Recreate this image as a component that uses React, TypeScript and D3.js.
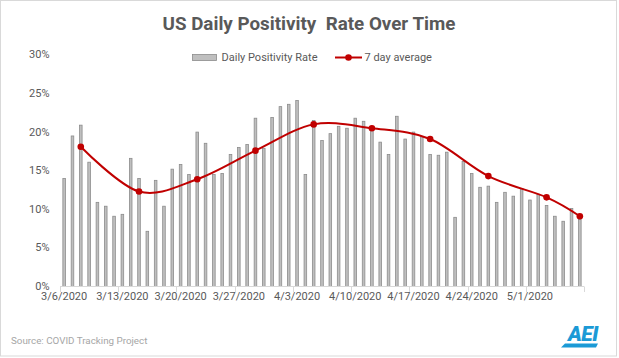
import React from "react";
import * as d3 from "d3";

const dates: string[] = [
  "3/6/2020","3/7/2020","3/8/2020","3/9/2020","3/10/2020","3/11/2020","3/12/2020",
  "3/13/2020","3/14/2020","3/15/2020","3/16/2020","3/17/2020","3/18/2020","3/19/2020",
  "3/20/2020","3/21/2020","3/22/2020","3/23/2020","3/24/2020","3/25/2020","3/26/2020",
  "3/27/2020","3/28/2020","3/29/2020","3/30/2020","3/31/2020","4/1/2020","4/2/2020",
  "4/3/2020","4/4/2020","4/5/2020","4/6/2020","4/7/2020","4/8/2020","4/9/2020",
  "4/10/2020","4/11/2020","4/12/2020","4/13/2020","4/14/2020","4/15/2020","4/16/2020",
  "4/17/2020","4/18/2020","4/19/2020","4/20/2020","4/21/2020","4/22/2020","4/23/2020",
  "4/24/2020","4/25/2020","4/26/2020","4/27/2020","4/28/2020","4/29/2020","4/30/2020",
  "5/1/2020","5/2/2020","5/3/2020","5/4/2020","5/5/2020","5/6/2020","5/7/2020",
];

const dailyRate: number[] = [
  14.0, 19.5, 20.9, 16.1, 10.9, 10.4, 9.1,
  9.35, 16.6, 14.0, 7.15, 13.75, 10.4, 15.2,
  15.8, 14.5, 20.0, 18.55, 14.5, 14.65, 17.1,
  18.0, 18.4, 21.8, 17.9, 21.9, 23.3, 23.6,
  24.1, 14.5, 21.5, 18.9, 19.8, 20.75, 20.5,
  21.8, 21.4, 20.6, 18.7, 17.1, 22.05, 19.1,
  20.0, 19.4, 17.1, 17.0, 17.4, 8.96, 16.2,
  14.65, 12.85, 13.0, 10.9, 12.2, 11.7, 12.7,
  11.2, 11.95, 10.5, 9.1, 8.45, 10.1, 8.7,
];

const avgDates: string[] = [
  "3/8/2020","3/15/2020","3/22/2020","3/29/2020","4/5/2020",
  "4/12/2020","4/19/2020","4/26/2020","5/3/2020","5/7/2020",
];
const avgRate: number[] = [18.1, 12.3, 13.9, 17.6, 21.0, 20.5, 19.1, 14.3, 11.55, 9.1];

const xTickLabels: string[] = [
  "3/6/2020","3/13/2020","3/20/2020","3/27/2020","4/3/2020",
  "4/10/2020","4/17/2020","4/24/2020","5/1/2020",
];
const yTicks: number[] = [0, 5, 10, 15, 20, 25, 30];

const W = 619;
const H = 358;
const FONT = "Roboto, 'Open Sans', sans-serif";

export default function App() {
  const x = d3.scaleBand<string>().domain(dates).range([60, 584]).paddingInner(0).paddingOuter(0);
  const y = d3.scaleLinear().domain([0, 30]).range([286.5, 54.9]);
  const bw = 2.6;
  const cx = (d: string) => (x(d) as number) + x.bandwidth() / 2;

  const line = d3
    .line<number>()
    .x((_, i) => cx(avgDates[i]))
    .y((v) => y(v))
    .curve(d3.curveCatmullRom.alpha(0));

  const tickXs = d3.range(0, dates.length + 1, 7).map((i) => 60 + i * x.step());

  return (
    <div style={{ position: "absolute", left: 0, top: 0 }}>
      <svg width={W} height={H} style={{ display: "block", background: "#fff" }}>
        <rect x={0.5} y={0.5} width={616} height={355.5} fill="#fff" stroke="#d9d9d9" strokeWidth={1} />
        <text x={309} y={30} textAnchor="middle" fontFamily={FONT} fontWeight={700} fontSize={18.8} fill="#595959" style={{ whiteSpace: "pre" }}>
          {"US Daily Positivity  Rate Over Time"}
        </text>

        {/* legend */}
        <rect x={192.5} y={54.5} width={24} height={6} fill="#bfbfbf" stroke="#8c8c8c" strokeWidth={0.8} />
        <text x={221.5} y={57.5} dy="0.35em" fontFamily={FONT} fontSize={11} fill="#595959">Daily Positivity Rate</text>
        <line x1={335} x2={362} y1={57.5} y2={57.5} stroke="#c00000" strokeWidth={2} />
        <circle cx={348.5} cy={57.5} r={3.3} fill="#c00000" />
        <text x={364.5} y={57.5} dy="0.35em" fontFamily={FONT} fontSize={11} fill="#595959">7 day average</text>

        {/* y labels */}
        {yTicks.map((t) => (
          <text key={t} x={49.5} y={y(t)} dy="0.32em" textAnchor="end" fontFamily={FONT} fontSize={11} fill="#595959">
            {t + "%"}
          </text>
        ))}

        {/* bars */}
        {dates.map((d, i) => (
          <rect
            key={d}
            x={cx(d) - bw / 2}
            y={y(dailyRate[i])}
            width={bw}
            height={y(0) - y(dailyRate[i])}
            fill="#bfbfbf"
            stroke="#8c8c8c"
            strokeWidth={0.8}
          />
        ))}

        {/* x axis */}
        <line x1={60} x2={584} y1={286.5} y2={286.5} stroke="#d9d9d9" strokeWidth={1} />
        {tickXs.map((tx, i) => (
          <line key={i} x1={Math.round(tx) + 0.5} x2={Math.round(tx) + 0.5} y1={286.5} y2={292} stroke="#d9d9d9" strokeWidth={1} />
        ))}
        {xTickLabels.map((l) => (
          <text key={l} x={cx(l)} y={299.5} textAnchor="middle" fontFamily={FONT} fontSize={11} fill="#595959">
            {l}
          </text>
        ))}

        {/* 7 day average */}
        <path d={line(avgRate) || ""} fill="none" stroke="#c00000" strokeWidth={2} />
        {avgRate.map((v, i) => (
          <circle key={i} cx={cx(avgDates[i])} cy={y(v)} r={3.3} fill="#c00000" />
        ))}

        {/* footer */}
        <text x={11} y={340.5} dy="0.35em" fontFamily={FONT} fontSize={9.8} fill="#a6a6a6">Source: COVID Tracking Project</text>
        <polygon points="561,347.5 596,347.5 598,343.5 565,343.5" fill="#1b9ad6" />
        <text x={568} y={341} fontFamily={FONT} fontWeight={900} fontStyle="italic" fontSize={21} fill="#1b9ad6" letterSpacing={-0.5}>AEI</text>
      </svg>
    </div>
  );
}
